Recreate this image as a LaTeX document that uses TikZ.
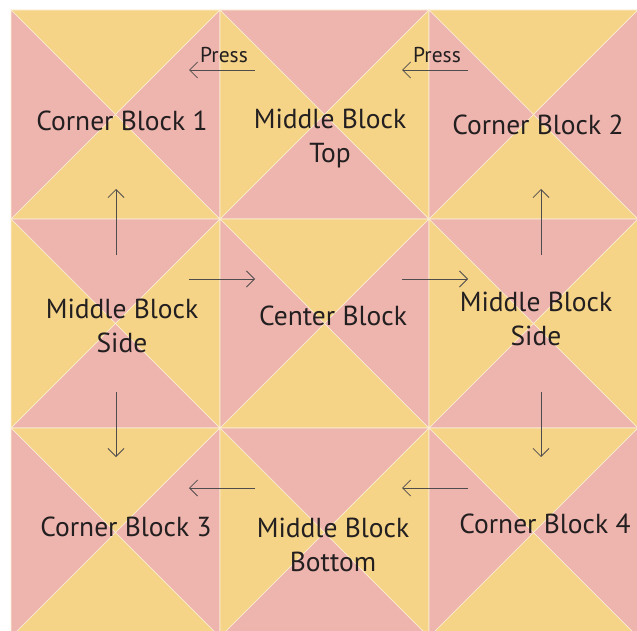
\documentclass[tikz,border=0pt]{standalone}
\usepackage{fontspec}
\setmainfont{PT Sans}
\usetikzlibrary{arrows.meta,positioning}
\definecolor{pnk}{HTML}{EEB5AE}
\definecolor{yel}{HTML}{F5D488}
\definecolor{ink}{HTML}{231F20}
\begin{document}
\begin{tikzpicture}[x=1pt, y=-1pt,
  lbl/.style={font=\fontsize{27.5}{34}\selectfont, text=ink, align=center, inner sep=0pt},
  prs/.style={font=\fontsize{21.5}{24}\selectfont, text=ink, inner sep=0pt},
  seam/.style={draw=white!65!yel, line width=0.6pt},
  mv/.style={draw=ink!80, line width=0.8pt, -{Straight Barb[length=8pt,width=16pt]}}
]
\useasboundingbox (0,0) rectangle (637,631);
\clip (0,0) rectangle (637,631);
% hourglass blocks
\foreach \i/\j/\tb/\lr in {0/0/yel/pnk, 1/0/pnk/yel, 2/0/yel/pnk,
                           0/1/pnk/yel, 1/1/yel/pnk, 2/1/pnk/yel,
                           0/2/yel/pnk, 1/2/pnk/yel, 2/2/yel/pnk}{
  \pgfmathsetmacro{\bx}{11+209*\i}
  \pgfmathsetmacro{\by}{10+209*\j}
  \begin{scope}[shift={(\bx,\by)}]
    \fill[\tb, seam] (0,0) -- (209,0) -- (104.5,104.5) -- cycle;
    \fill[\tb, seam] (0,209) -- (209,209) -- (104.5,104.5) -- cycle;
    \fill[\lr, seam] (0,0) -- (0,209) -- (104.5,104.5) -- cycle;
    \fill[\lr, seam] (209,0) -- (209,209) -- (104.5,104.5) -- cycle;
  \end{scope}
}
% labels
\node[lbl] (cb1) at (122,121) {Corner Block 1};
\node[lbl] (mbt) at (330,139) {Middle Block\\Top};
\node[lbl] (cb2) at (538,125) {Corner Block 2};
\node[lbl] (mbl) at (122,326) {Middle Block\\Side};
\node[lbl] (cen) at (333,316) {Center Block};
\node[lbl] (mbr) at (536,319) {Middle Block\\Side};
\node[lbl] (cb3) at (126,527) {Corner Block 3};
\node[lbl] (mbb) at (333,545) {Middle Block\\Bottom};
\node[lbl] (cb4) at (545,524) {Corner Block 4};
\node[prs] (prs1) at (224,55) {Press};
\node[prs] (prs2) at (437,55) {Press};
% arrow ends
\coordinate (a1) at (255,70);  \coordinate (b1) at (189,70);
\coordinate (a2) at (468,70);  \coordinate (b2) at (402,70);
\coordinate (a3) at (116,255); \coordinate (b3) at (116,189);
\coordinate (a4) at (541,255); \coordinate (b4) at (541,189);
\coordinate (a5) at (189,279); \coordinate (b5) at (255,279);
\coordinate (a6) at (402,279); \coordinate (b6) at (468,279);
\coordinate (a7) at (116,392); \coordinate (b7) at (116,457);
\coordinate (a8) at (541,392); \coordinate (b8) at (541,457);
\coordinate (a9) at (255,488); \coordinate (b9) at (189,488);
\coordinate (a10) at (468,488); \coordinate (b10) at (402,488);
\foreach \k in {1,...,10}
  \draw[mv] (a\k) -- (b\k);
\end{tikzpicture}
\end{document}
